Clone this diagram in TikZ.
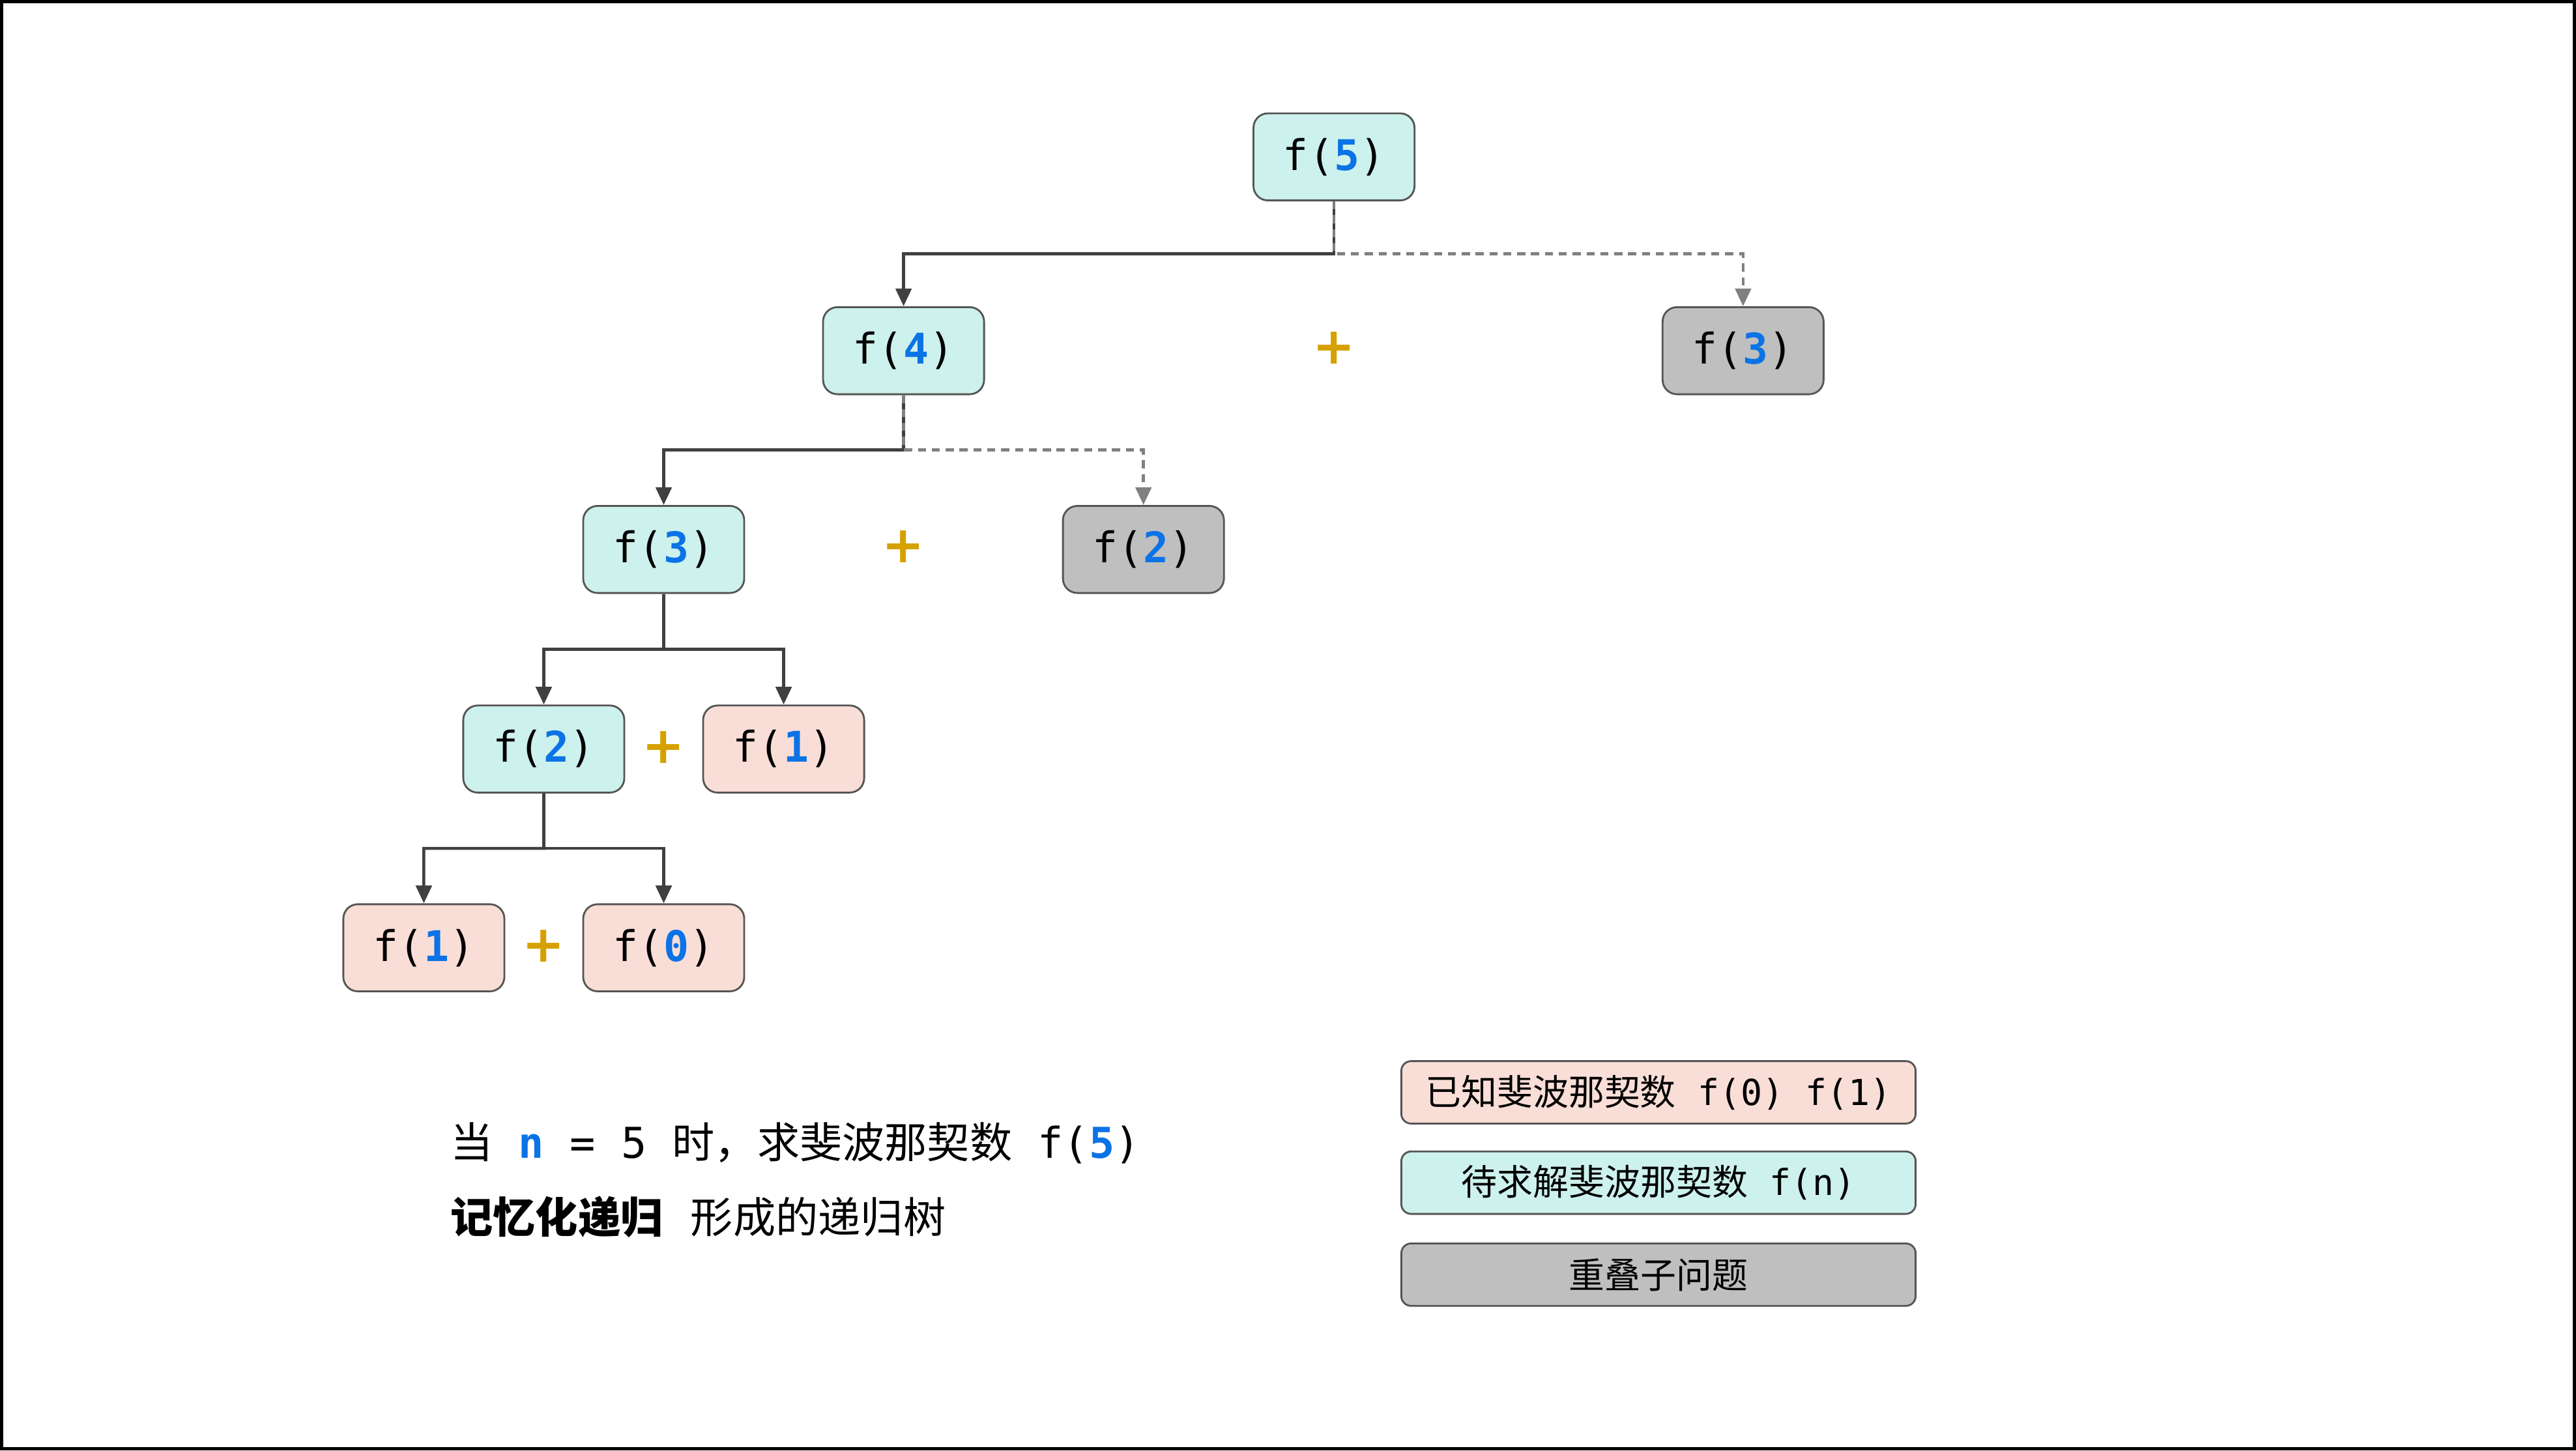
\documentclass[tikz,border=0pt]{standalone}
\usepackage{fontspec}
\setmonofont{DejaVu Sans Mono}
\newfontfamily\cjk{Noto Sans CJK SC}
\newfontfamily\plusfont{DejaVu Sans}
\usetikzlibrary{arrows.meta,positioning,calc}
\definecolor{edgedark}{HTML}{404040}
\definecolor{edgegray}{HTML}{808080}
\definecolor{boxline}{HTML}{555555}
\definecolor{fillTodo}{HTML}{CDF1EC}
\definecolor{fillKnown}{HTML}{F9DED7}
\definecolor{fillDup}{HTML}{BFBFBF}
\definecolor{numblue}{HTML}{0B73E6}
\definecolor{plusgold}{HTML}{D6A100}

\newcommand{\fibcall}[1]{\texttt{f(\textbf{\color{numblue}#1})}}

\tikzset{
  fnode/.style={draw=boxline,line width=0.8pt,rounded corners=0.22cm,
    minimum width=2.45cm,minimum height=1.325cm,inner sep=0pt,
    font=\fontsize{18.3}{22}\selectfont},
  todonode/.style={fnode,fill=fillTodo},
  knownnode/.style={fnode,fill=fillKnown},
  dupnode/.style={fnode,fill=fillDup},
  legendbox/.style={draw=boxline,line width=0.8pt,rounded corners=0.15cm,
    minimum width=7.825cm,minimum height=0.95cm,inner sep=0pt,
    font=\fontsize{15.5}{18}\selectfont},
  plussign/.style={text=plusgold,inner sep=0pt,
    font=\plusfont\bfseries\fontsize{22}{22}\selectfont},
  call/.style={draw=edgedark,line width=1.3pt,
    -{Triangle[length=0.27cm,width=0.24cm]}},
  reuse/.style={draw=edgegray,line width=1.3pt,dash pattern=on 3.5pt off 2.5pt,
    -{Triangle[length=0.27cm,width=0.24cm]}},
}

\begin{document}
\begin{tikzpicture}[x=0.025cm,y=-0.025cm]
\useasboundingbox (0,0) rectangle (1568,883);
\draw[line width=0.05cm] (1,1) rectangle (1567,882);

% recursion tree
\node[todonode] (f5) at (812,95.5) {\fibcall{5}};
\node[todonode] (f4) at (550,213.5) {\fibcall{4}};
\node[dupnode] (f3dup) at (1061,213.5) {\fibcall{3}};
\node[todonode] (f3) at (404,334.5) {\fibcall{3}};
\node[dupnode] (f2dup) at (696,334.5) {\fibcall{2}};
\node[todonode] (f2) at (331,456) {\fibcall{2}};
\node[knownnode] (f1top) at (477,456) {\fibcall{1}};
\node[knownnode] (f1) at (258,577) {\fibcall{1}};
\node[knownnode] (f0) at (404,577) {\fibcall{0}};

\node[plussign] (plus5) at (812,212) {+};
\node[plussign] (plus4) at (550,333) {+};
\node[plussign] (plus3) at (404,455) {+};
\node[plussign] (plus2) at (331,576) {+};

\coordinate (s5) at ($(f5.south)!0.5!(f5.south |- f4.north)$);
\coordinate (s4) at ($(f4.south)!0.5!(f4.south |- f3.north)$);
\coordinate (s3) at ($(f3.south)!0.5!(f3.south |- f2.north)$);
\coordinate (s2) at ($(f2.south)!0.5!(f2.south |- f1.north)$);

\draw[call] (f5.south) -- (s5) -| (f4.north);
\draw[reuse] (f5.south) -- (s5) -| (f3dup.north);
\draw[call] (f4.south) -- (s4) -| (f3.north);
\draw[reuse] (f4.south) -- (s4) -| (f2dup.north);
\draw[call] (f3.south) -- (s3) -| (f2.north);
\draw[call] (s3) -| (f1top.north);
\draw[call] (f2.south) -- (s2) -| (f1.north);
\draw[call] (s2) -| (f0.north);

% caption
\node[anchor=west,inner sep=0pt,font=\fontsize{18.4}{22}\selectfont] (caption1) at (274,696)
  {\cjk 当\texttt{ \textbf{\color{numblue}n} = 5 }时，求斐波那契数\texttt{ \fibcall{5}}};
\node[anchor=west,inner sep=0pt,font=\fontsize{18.4}{22}\selectfont] (caption2) at (274,741)
  {\cjk\textbf{记忆化递归}\hspace{0.42cm}形成的递归树};

% legend
\node[legendbox,fill=fillKnown] (legKnown) at (1009.5,665)
  {\cjk 已知斐波那契数\texttt{ f(0) f(1)}};
\node[legendbox,fill=fillTodo] (legTodo) at (1009.5,720)
  {\cjk 待求解斐波那契数\texttt{ f(n)}};
\node[legendbox,fill=fillDup] (legDup) at (1009.5,776)
  {\cjk 重叠子问题};
\end{tikzpicture}
\end{document}
